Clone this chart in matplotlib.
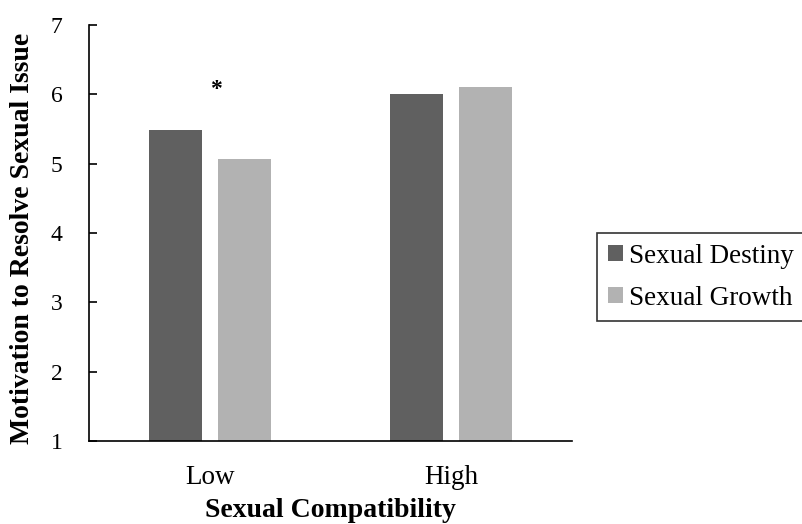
import numpy as np
import matplotlib
matplotlib.use('Agg')
import matplotlib.pyplot as plt

# Data
categories = ['Low', 'High']
series_names = ['Sexual Destiny', 'Sexual Growth']
destiny = [5.49, 6.00]
growth = [5.07, 6.11]
colors = ['#606060', '#b2b2b2']

plt.rcParams['font.family'] = ['Liberation Serif', 'DejaVu Serif']

W, H = 803, 524
fig = plt.figure(figsize=(W / 100, H / 100), dpi=100)
ax = fig.add_axes([89 / W, 1 - 441 / H, (572 - 89) / W, (441 - 25) / H])

x = np.arange(len(categories))
width = 0.22
offset = 0.143
ax.bar(x - offset, destiny, width, bottom=0, color=colors[0], label=series_names[0])
ax.bar(x + offset, growth, width, bottom=0, color=colors[1], label=series_names[1])

# significance marker above the Low group
ax.text(x[0] + 0.025, 6.11, '*', ha='center', va='center_baseline', fontsize=17, fontweight='bold')

ax.set_ylim(1, 7)
ax.set_xlim(-0.5, 1.5)
ax.set_yticks(range(1, 8))
ax.set_xticks(x)
ax.set_xticklabels(categories)
ax.tick_params(axis='y', direction='in', length=6, width=1.2, labelsize=17, pad=19)
ax.tick_params(axis='x', length=0, labelsize=19.5, pad=17)

for side in ['top', 'right']:
    ax.spines[side].set_visible(False)
ax.spines['left'].set_linewidth(1.2)
ax.spines['bottom'].set_linewidth(1.2)

ax.set_ylabel('Motivation to Resolve Sexual Issue', fontsize=20, fontweight='bold')
ax.yaxis.set_label_coords(-0.112, 0.486)
ax.set_xlabel('Sexual Compatibility', fontsize=20, fontweight='bold')
ax.xaxis.set_label_coords(0.5, -0.138)

leg = fig.legend(loc='upper left', bbox_to_anchor=(597 / W, 1 - 233 / H), borderaxespad=0,
                 frameon=True, fancybox=False, edgecolor='black', fontsize=19.5,
                 handlelength=0.55, handleheight=0.55, handletextpad=0.25,
                 borderpad=0.4, labelspacing=0.62)
leg.get_frame().set_linewidth(1.2)

fig.savefig('out.png', dpi=100)
